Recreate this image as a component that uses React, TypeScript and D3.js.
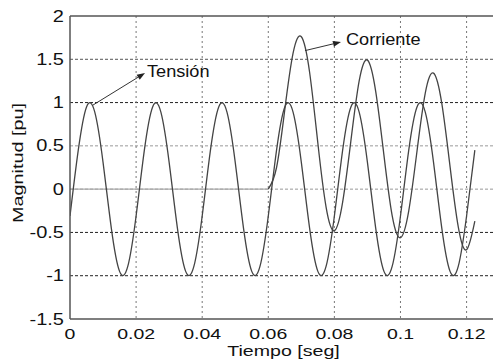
import React from "react";
import * as d3 from "d3";

// Sample times (s) and per-unit values for the voltage waveform
const tensionTime = [
  0, 0.0025, 0.005, 0.0075, 0.01, 0.0125, 0.015, 0.0175,
  0.02, 0.0225, 0.025, 0.0275, 0.03, 0.0325, 0.035, 0.0375,
  0.04, 0.0425, 0.045, 0.0475, 0.05, 0.0525, 0.055, 0.0575,
  0.06, 0.0625, 0.065, 0.0675, 0.07, 0.0725, 0.075, 0.0775,
  0.08, 0.0825, 0.085, 0.0875, 0.09, 0.0925, 0.095, 0.0975,
  0.1, 0.1025, 0.105, 0.1075, 0.11, 0.1125, 0.115, 0.1175,
  0.12, 0.1225,
];
const tensionValues = [
  -0.31, 0.45, 0.95, 0.89, 0.31, -0.45, -0.95, -0.89,
  -0.31, 0.45, 0.95, 0.89, 0.31, -0.45, -0.95, -0.89,
  -0.31, 0.45, 0.95, 0.89, 0.31, -0.45, -0.95, -0.89,
  -0.31, 0.45, 0.95, 0.89, 0.31, -0.45, -0.95, -0.89,
  -0.31, 0.45, 0.95, 0.89, 0.31, -0.45, -0.95, -0.89,
  -0.31, 0.45, 0.95, 0.89, 0.31, -0.45, -0.95, -0.89,
  -0.31, 0.45,
];

// Current is zero before the fault, then carries a decaying offset
const preFaultTime = [0, 0.06];
const preFaultValues = [0, 0];
const currentTime = [
  0.06, 0.0625, 0.065, 0.0675, 0.07, 0.0725, 0.075, 0.0775,
  0.08, 0.0825, 0.085, 0.0875, 0.09, 0.0925, 0.095, 0.0975,
  0.1, 0.1025, 0.105, 0.1075, 0.11, 0.1125, 0.115, 0.1175,
  0.12, 0.1225,
];
const currentValues = [
  0.0, 0.25, 0.92, 1.57, 1.76, 1.35, 0.53, -0.21,
  -0.48, -0.15, 0.56, 1.25, 1.49, 1.13, 0.39, -0.31,
  -0.56, -0.25, 0.44, 1.11, 1.34, 0.99, 0.26, -0.44,
  -0.7, -0.37,
];

const xTicks = [0, 0.02, 0.04, 0.06, 0.08, 0.1, 0.12];
const xTickLabels = ["0", "0.02", "0.04", "0.06", "0.08", "0.1", "0.12"];
const yTicks = [2, 1.5, 1, 0.5, 0, -0.5, -1, -1.5];
const yTickLabels = ["2", "1.5", "1", "0.5", "0", "-0.5", "-1", "-1.5"];

const W = 493;
const H = 362;
const left = 70;
const top = 16;
const bottom = 319;
const right = 495;

const font = "'Liberation Sans', Arial, Helvetica, sans-serif";

export default function App() {
  const x = d3.scaleLinear().domain([0, 0.1286]).range([left, right]);
  const y = d3.scaleLinear().domain([-1.5, 2]).range([bottom, top]);

  const smooth = d3
    .line<[number, number]>()
    .x((d) => x(d[0]))
    .y((d) => y(d[1]))
    .curve(d3.curveNatural);
  const straight = d3
    .line<[number, number]>()
    .x((d) => x(d[0]))
    .y((d) => y(d[1]));

  const tension = tensionTime.map((t, i) => [t, tensionValues[i]] as [number, number]);
  const current = currentTime.map((t, i) => [t, currentValues[i]] as [number, number]);
  const preFault = preFaultTime.map((t, i) => [t, preFaultValues[i]] as [number, number]);

  const gridColor = (v: number) =>
    v === 1 || v === -1 || v === -0.5 ? "#222" : v === 1.5 ? "#555" : "#999";

  const arrow = (x1: number, y1: number, x2: number, y2: number) => {
    const a = Math.atan2(y2 - y1, x2 - x1);
    const len = 8;
    const half = 3;
    const bx = x2 - len * Math.cos(a);
    const by = y2 - len * Math.sin(a);
    const p1 = [bx + half * Math.sin(a), by - half * Math.cos(a)];
    const p2 = [bx - half * Math.sin(a), by + half * Math.cos(a)];
    return (
      <g>
        <line x1={x1} y1={y1} x2={bx} y2={by} stroke="#333" strokeWidth={1} />
        <polygon points={`${x2},${y2} ${p1[0]},${p1[1]} ${p2[0]},${p2[1]}`} fill="#222" />
      </g>
    );
  };

  return (
    <svg
      width={W}
      height={H}
      style={{ position: "absolute", left: 0, top: 0, background: "#fff" }}
      fontFamily={font}
    >
      <defs>
        <clipPath id="plot">
          <rect x={left} y={top} width={right - left} height={bottom - top} />
        </clipPath>
      </defs>
      <rect width={W} height={H} fill="#fff" />

      {/* grid */}
      <g clipPath="url(#plot)">
        {yTicks
          .filter((v) => v !== 2 && v !== -1.5)
          .map((v) => (
            <line
              key={`gy${v}`}
              x1={left}
              x2={right}
              y1={y(v)}
              y2={y(v)}
              stroke={gridColor(v)}
              strokeWidth={1}
              strokeDasharray="3,2"
            />
          ))}
        {xTicks
          .filter((v) => v !== 0)
          .map((v) => (
            <line
              key={`gx${v}`}
              x1={x(v)}
              x2={x(v)}
              y1={top}
              y2={bottom}
              stroke="#777"
              strokeWidth={1}
              strokeDasharray="2,3"
            />
          ))}

        {/* waveforms */}
        <path d={straight(preFault) ?? ""} fill="none" stroke="#aaa" strokeWidth={1.3} />
        <path d={smooth(tension) ?? ""} fill="none" stroke="#444" strokeWidth={1.3} />
        <path d={smooth(current) ?? ""} fill="none" stroke="#444" strokeWidth={1.3} />
      </g>

      {/* frame */}
      <line x1={left} x2={right} y1={top} y2={top} stroke="#555" strokeWidth={1.5} />
      <line x1={left} x2={right} y1={bottom} y2={bottom} stroke="#555" strokeWidth={1.5} />
      <line x1={left} x2={left} y1={top} y2={bottom} stroke="#555" strokeWidth={1.5} />

      {/* tick labels */}
      {xTicks.map((v, i) => (
        <text
          key={`xl${v}`}
          transform={`translate(${x(v)},339) scale(1.3,1)`}
          textAnchor="middle"
          fontSize={15}
          fill="#111"
        >
          {xTickLabels[i]}
        </text>
      ))}
      {yTicks.map((v, i) => (
        <text
          key={`yl${v}`}
          transform={`translate(64,${y(v) + 5.5}) scale(1.25,1)`}
          textAnchor="end"
          fontSize={16}
          fill="#111"
        >
          {yTickLabels[i]}
        </text>
      ))}

      {/* axis titles */}
      <text
        transform="translate(283.5,356) scale(1.4,1)"
        textAnchor="middle"
        fontSize={14}
        fill="#111"
      >
        Tiempo [seg]
      </text>
      <text
        transform="translate(23,163) rotate(-90) scale(1.32,1)"
        textAnchor="middle"
        fontSize={15}
        fill="#111"
      >
        Magnitud [pu]
      </text>

      {/* annotations */}
      {arrow(x(0.0069), y(0.97), 145, 73)}
      <text transform="translate(147,77) scale(1.1,1)" fontSize={16.5} fill="#111">
        Tensión
      </text>
      {arrow(x(0.0711), y(1.6), 341, 42)}
      <text transform="translate(346,45) scale(1.1,1)" fontSize={16.5} fill="#111">
        Corriente
      </text>
    </svg>
  );
}
